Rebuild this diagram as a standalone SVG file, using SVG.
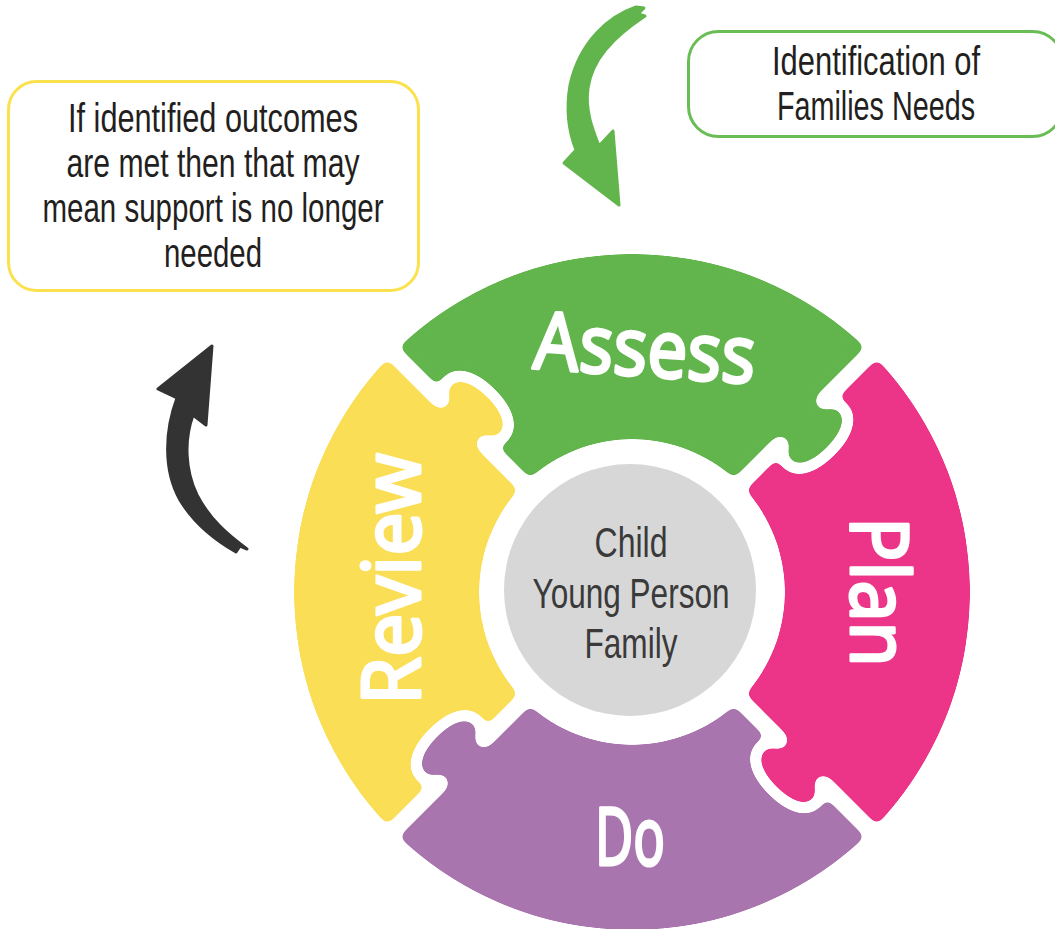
<svg xmlns="http://www.w3.org/2000/svg" xmlns:xlink="http://www.w3.org/1999/xlink" width="1055" height="929" viewBox="0 0 1055 929">
<style>
.box{fill:#fff;stroke-width:3}
.bt{font-family:"Liberation Sans Narrow","Liberation Sans",Arial,sans-serif;font-size:40px;fill:#231f20;text-anchor:middle}
.ct{font-family:"Liberation Sans Narrow","Liberation Sans",Arial,sans-serif;font-size:42px;fill:#3a3a3a;text-anchor:middle}
.pl{font-family:"Noto Sans","Open Sans",sans-serif;font-weight:400;font-size:80px;fill:#fff;stroke:#fff;stroke-width:3;stroke-linejoin:round;text-anchor:middle}
</style>
<defs>
  <path id="bl" d="M 120 0 L 213 0 M 267 0 L 372 0" fill="none" stroke="#000" stroke-width="17"/>
  <path id="bk" d="M 213 0 C 213 6 200 6 200 18 C 200 34 218 41 240 41 C 262 41 280 34 280 18 C 280 6 267 6 267 0" fill="none" stroke="#000" stroke-width="11" stroke-linecap="round" stroke-linejoin="round"/>
  <path id="kf" d="M 213 -4 L 213 0 C 213 6 200 6 200 18 C 200 34 218 41 240 41 C 262 41 280 34 280 18 C 280 6 267 6 267 0 L 267 -4 Z"/>
  <mask id="pm" maskUnits="userSpaceOnUse" x="-420" y="-420" width="840" height="840">
    <path d="M -338 0 A 338 338 0 1 0 338 0 A 338 338 0 1 0 -338 0 Z M -153 0 A 153 153 0 1 1 153 0 A 153 153 0 1 1 -153 0 Z" fill="#fff" fill-rule="evenodd"/>
    <g transform="rotate(-45)"><use xlink:href="#bl"/><use xlink:href="#bk"/></g>
    <g transform="rotate(-135)" fill="#000"><use xlink:href="#kf"/><use xlink:href="#bl"/><use xlink:href="#bk"/></g>
  </mask>
  <g id="piece">
    <polygon points="0,0 -420,-420 420,-420"/>
    <use xlink:href="#kf" transform="rotate(-45)"/>
  </g>
  <filter id="soft" x="-10%" y="-10%" width="120%" height="120%" color-interpolation-filters="sRGB">
    <feGaussianBlur in="SourceGraphic" stdDeviation="4.5"/>
    <feComponentTransfer><feFuncA type="linear" slope="16" intercept="-7.5"/></feComponentTransfer>
  </filter>
</defs>
<rect width="1055" height="929" fill="#fff"/>

<g id="ring">
  <g id="assess" transform="translate(632 592)" fill="#62B54C" filter="url(#soft)"><g mask="url(#pm)"><use xlink:href="#piece"/></g></g>
  <g id="plan" transform="translate(632 592) rotate(90)" fill="#EC3488" filter="url(#soft)"><g mask="url(#pm)"><use xlink:href="#piece"/></g></g>
  <g id="do" transform="translate(632 592) rotate(180)" fill="#A975AE" filter="url(#soft)"><g mask="url(#pm)"><use xlink:href="#piece"/></g></g>
  <g id="review" transform="translate(632 592) rotate(270)" fill="#FADE55" filter="url(#soft)"><g mask="url(#pm)"><use xlink:href="#piece"/></g></g>
</g>

<g id="labels">
  <text class="pl" transform="translate(643 376) rotate(4)" textLength="222" lengthAdjust="spacingAndGlyphs">Assess</text>
  <text class="pl" transform="translate(851 592) rotate(90)" textLength="150" lengthAdjust="spacingAndGlyphs">Plan</text>
  <text class="pl" x="630" y="865" textLength="70" lengthAdjust="spacingAndGlyphs">Do</text>
  <text class="pl" transform="translate(420 579) rotate(-90)" textLength="252" lengthAdjust="spacingAndGlyphs">Review</text>
</g>

<g id="centre">
  <circle cx="630" cy="590" r="126" fill="#D7D7D7"/>
  <text class="ct" x="631" y="557" textLength="73" lengthAdjust="spacingAndGlyphs">Child</text>
  <text class="ct" x="631" y="608" textLength="197" lengthAdjust="spacingAndGlyphs">Young Person</text>
  <text class="ct" x="631" y="658" textLength="93" lengthAdjust="spacingAndGlyphs">Family</text>
</g>

<g id="outcomes-box">
  <rect class="box" x="8.5" y="81.5" width="410" height="209" rx="28" stroke="#FBE14D"/>
  <text class="bt" x="213" y="132" textLength="290" lengthAdjust="spacingAndGlyphs">If identified outcomes</text>
  <text class="bt" x="213" y="177" textLength="293" lengthAdjust="spacingAndGlyphs">are met then that may</text>
  <text class="bt" x="213" y="222" textLength="341" lengthAdjust="spacingAndGlyphs">mean support is no longer</text>
  <text class="bt" x="213" y="267" textLength="98" lengthAdjust="spacingAndGlyphs">needed</text>
</g>

<g id="needs-box">
  <rect class="box" x="688.5" y="31.5" width="374" height="105" rx="30" stroke="#6ABD55"/>
  <text class="bt" x="876" y="75" textLength="208" lengthAdjust="spacingAndGlyphs">Identification of</text>
  <text class="bt" x="876" y="120" textLength="198" lengthAdjust="spacingAndGlyphs">Families Needs</text>
</g>

<g id="connectors" stroke-linejoin="round">
  <path d="M 636 7 C 610 16 580 40 570 85 C 565 115 570 135 576 150 L 564 163 L 619 205 L 613 131 L 599 146 C 592 128 585 110 588 88 C 592 60 612 38 645 16 L 638 14 L 644 8 Z" fill="#62B54C" stroke="#62B54C" stroke-width="3"/>
  <path d="M 212 346 L 158 389 L 177 398 C 165 430 163 470 180 500 C 195 525 215 540 236 552 L 240 546 L 247 549 C 228 535 210 520 197 495 C 185 470 184 440 193 415 L 206 425 Z" fill="#333" stroke="#333" stroke-width="3"/>
</g>
</svg>
